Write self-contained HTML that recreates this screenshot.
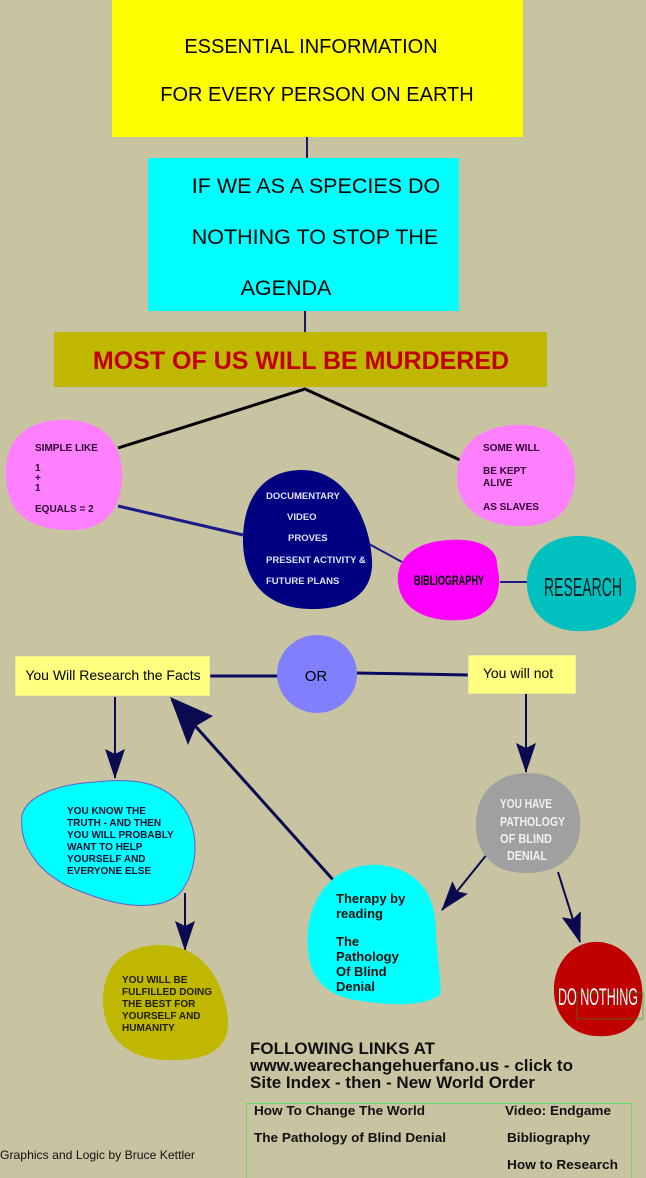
<!DOCTYPE html>
<html><head><meta charset="utf-8"><style>
html,body{margin:0;padding:0;background:#c8c3a0;}
svg{display:block;font-family:"Liberation Sans",sans-serif;}
</style></head><body>
<svg width="646" height="1178" viewBox="0 0 646 1178" xmlns="http://www.w3.org/2000/svg">
<rect width="646" height="1178" fill="#c8c3a0"/>
<defs>
<marker id="ah" viewBox="0 0 30 20" refX="29" refY="10" markerWidth="30" markerHeight="20" markerUnits="userSpaceOnUse" orient="auto"><path d="M0,0 L30,10 L0,20 L5,10 z" fill="#0a0a50"/></marker>
</defs>
<rect x="112" y="0" width="411" height="137" fill="#ffff00"/>
<text x="311" y="53" font-size="20" text-anchor="middle" fill="#000">ESSENTIAL INFORMATION</text>
<text x="317" y="101" font-size="20" text-anchor="middle" fill="#000">FOR EVERY PERSON ON EARTH</text>
<line x1="307" y1="137" x2="307" y2="158" stroke="#1a1a60" stroke-width="2"/>
<rect x="148" y="158" width="311" height="153" fill="#00ffff"/>
<text x="316" y="193" font-size="21.5" text-anchor="middle">IF WE AS A SPECIES DO</text>
<text x="315" y="244" font-size="21.5" text-anchor="middle">NOTHING TO STOP THE</text>
<text x="286" y="295" font-size="21.5" text-anchor="middle">AGENDA</text>
<line x1="305" y1="311" x2="305" y2="332" stroke="#1a1a60" stroke-width="2"/>
<rect x="54" y="332" width="493" height="55" fill="#c0b800"/>
<text x="301" y="369" font-size="25" font-weight="bold" text-anchor="middle" fill="#c00000">MOST OF US WILL BE MURDERED</text>
<polyline points="118,448 305,389 460,460" fill="none" stroke="#000" stroke-width="3"/>
<line x1="118" y1="506" x2="243" y2="535" stroke="#1a1a8a" stroke-width="3"/>
<line x1="369" y1="544" x2="402" y2="562" stroke="#1a1a8a" stroke-width="2"/>
<line x1="500" y1="582" x2="528" y2="582" stroke="#1a1a8a" stroke-width="2"/>
<path d="M60,420 C105,418 124,445 122,480 C120,515 100,532 65,530 C25,528 5,510 6,470 C7,440 25,421 60,420 Z" fill="#ff80ff"/>
<text font-size="10" font-weight="bold" fill="#300030"><tspan x="35" y="451">SIMPLE LIKE</tspan><tspan x="35" y="471">1</tspan><tspan x="35" y="481">+</tspan><tspan x="35" y="491">1</tspan><tspan x="35" y="512">EQUALS = 2</tspan></text>
<path d="M515,425 C555,423 577,445 575,480 C572,515 550,528 515,526 C478,524 456,505 457,475 C458,445 480,426 515,425 Z" fill="#ff80ff"/>
<text font-size="10" font-weight="bold" fill="#300030"><tspan x="483" y="451">SOME WILL</tspan><tspan x="483" y="474">BE KEPT</tspan><tspan x="483" y="486">ALIVE</tspan><tspan x="483" y="510">AS SLAVES</tspan></text>
<path d="M300,470 C345,468 370,520 372,560 C374,595 345,610 310,609 C265,608 243,580 243,540 C243,500 262,471 300,470 Z" fill="#000080"/>
<text font-size="9.5" font-weight="bold" fill="#e0e0ff"><tspan x="266" y="499">DOCUMENTARY</tspan><tspan x="287" y="520">VIDEO</tspan><tspan x="288" y="541">PROVES</tspan><tspan x="266" y="563">PRESENT ACTIVITY &amp;</tspan><tspan x="266" y="584">FUTURE PLANS</tspan></text>
<path d="M450,540 C485,538 498,552 497,565 C502,585 500,610 470,619 C430,625 400,610 398,582 C396,555 420,541 450,540 Z" fill="#ff00ff"/>
<text x="449" y="585" font-size="14" font-weight="bold" text-anchor="middle" textLength="70" lengthAdjust="spacingAndGlyphs">BIBLIOGRAPHY</text>
<path d="M580,536 C620,537 638,565 636,590 C633,618 610,633 575,631 C540,628 526,605 527,580 C528,553 550,535 580,536 Z" fill="#00c0c0"/>
<text x="583" y="596" font-size="26" text-anchor="middle" textLength="78" lengthAdjust="spacingAndGlyphs" fill="#002020">RESEARCH</text>
<line x1="210" y1="676" x2="279" y2="676" stroke="#0a0a60" stroke-width="3"/>
<line x1="357" y1="673" x2="469" y2="675" stroke="#0a0a60" stroke-width="3"/>
<ellipse cx="317" cy="674" rx="40" ry="39" fill="#8080ff"/>
<text x="316" y="681" font-size="15" text-anchor="middle" fill="#000">OR</text>
<rect x="15" y="656" width="195" height="40" fill="#ffff80" stroke="#bbb" stroke-width="0.5"/>
<text x="113" y="680" font-size="14" text-anchor="middle">You Will Research the Facts</text>
<rect x="468" y="655" width="108" height="39" fill="#ffff80" stroke="#bbb" stroke-width="0.5"/>
<text x="518" y="678" font-size="14" text-anchor="middle">You will not</text>
<line x1="115" y1="697" x2="115" y2="778" stroke="#0a0a50" stroke-width="2" marker-end="url(#ah)"/>
<line x1="526" y1="694" x2="526" y2="772" stroke="#0a0a50" stroke-width="2" marker-end="url(#ah)"/>
<line x1="335" y1="882" x2="172" y2="700" stroke="#0a0a50" stroke-width="3"/>
<path d="M170,697 L213,716 L196,726 L188,745 Z" fill="#0a0a50"/>
<line x1="185" y1="893" x2="185" y2="950" stroke="#0a0a50" stroke-width="2" marker-end="url(#ah)"/>
<line x1="488" y1="853" x2="442" y2="910" stroke="#0a0a50" stroke-width="2" marker-end="url(#ah)"/>
<line x1="558" y1="872" x2="580" y2="942" stroke="#0a0a50" stroke-width="2" marker-end="url(#ah)"/>
<path d="M95,782 C130,778 165,780 185,810 C200,835 198,870 180,893 C160,912 120,907 85,893 C45,880 18,850 22,815 C27,795 60,784 95,782 Z" fill="#00ffff" stroke="#6060d0" stroke-width="1"/>
<text font-size="10" font-weight="bold" fill="#101030"><tspan x="67" y="814">YOU KNOW THE</tspan><tspan x="67" y="826">TRUTH - AND THEN</tspan><tspan x="67" y="838">YOU WILL PROBABLY</tspan><tspan x="67" y="850">WANT TO HELP</tspan><tspan x="67" y="862">YOURSELF AND</tspan><tspan x="67" y="874">EVERYONE ELSE</tspan></text>
<path d="M160,945 C205,945 225,985 228,1020 C230,1050 205,1062 165,1060 C125,1058 103,1035 103,1000 C103,965 125,945 160,945 Z" fill="#c0b800"/>
<text font-size="10" font-weight="bold" fill="#202000"><tspan x="122" y="983">YOU WILL BE</tspan><tspan x="122" y="995">FULFILLED DOING</tspan><tspan x="122" y="1007">THE BEST FOR</tspan><tspan x="122" y="1019">YOURSELF AND</tspan><tspan x="122" y="1031">HUMANITY</tspan></text>
<path d="M528,773 C565,773 583,800 580,830 C577,860 555,873 525,873 C495,873 475,855 476,822 C477,792 497,773 528,773 Z" fill="#a0a0a0"/>
<text font-size="13" fill="#f0f0f0" font-weight="bold"><tspan x="500" y="808" textLength="52" lengthAdjust="spacingAndGlyphs">YOU HAVE</tspan><tspan x="500" y="826" textLength="65" lengthAdjust="spacingAndGlyphs">PATHOLOGY</tspan><tspan x="500" y="843" textLength="52" lengthAdjust="spacingAndGlyphs">OF BLIND</tspan><tspan x="507" y="860" textLength="40" lengthAdjust="spacingAndGlyphs">DENIAL</tspan></text>
<path d="M380,865 C420,870 435,895 436,930 C437,960 442,985 440,995 C420,1008 385,1005 355,1000 C315,993 305,965 308,930 C312,890 340,862 380,865 Z" fill="#00ffff"/>
<text font-size="13" font-weight="bold" fill="#101010"><tspan x="336" y="903">Therapy by</tspan><tspan x="336" y="918">reading</tspan><tspan x="336" y="946">The</tspan><tspan x="336" y="961">Pathology</tspan><tspan x="336" y="976">Of  Blind</tspan><tspan x="336" y="991">Denial</tspan></text>
<path d="M600,942 C630,945 645,975 642,1000 C640,1028 620,1038 595,1036 C568,1034 553,1012 554,988 C555,960 575,940 600,942 Z" fill="#c00000"/>
<text x="598" y="1005" font-size="24" text-anchor="middle" fill="#fff" textLength="80" lengthAdjust="spacingAndGlyphs">DO NOTHING</text>
<rect x="577" y="993" width="66" height="26" fill="none" stroke="#2a8a2a" stroke-width="0.6"/>
<text font-size="16.5" font-weight="bold" fill="#111"><tspan x="250" y="1054" textLength="185" lengthAdjust="spacingAndGlyphs">FOLLOWING LINKS AT</tspan><tspan x="250" y="1071" textLength="323" lengthAdjust="spacingAndGlyphs">www.wearechangehuerfano.us - click to</tspan><tspan x="250" y="1088" textLength="285" lengthAdjust="spacingAndGlyphs">Site Index - then - New World Order</tspan></text>
<rect x="246.5" y="1103.5" width="385" height="75" fill="none" stroke="#60e060" stroke-width="1"/>
<text font-size="13" font-weight="bold" fill="#111"><tspan x="254" y="1115" textLength="171" lengthAdjust="spacingAndGlyphs">How To Change The World</tspan><tspan x="254" y="1142" textLength="192" lengthAdjust="spacingAndGlyphs">The Pathology of Blind Denial</tspan><tspan x="505" y="1115" textLength="106" lengthAdjust="spacingAndGlyphs">Video: Endgame</tspan><tspan x="507" y="1142" textLength="83" lengthAdjust="spacingAndGlyphs">Bibliography</tspan><tspan x="507" y="1169" textLength="111" lengthAdjust="spacingAndGlyphs">How to Research</tspan></text>
<text x="0" y="1159" font-size="12" fill="#111" textLength="195" lengthAdjust="spacingAndGlyphs">Graphics and Logic by Bruce Kettler</text>
</svg>
</body></html>
